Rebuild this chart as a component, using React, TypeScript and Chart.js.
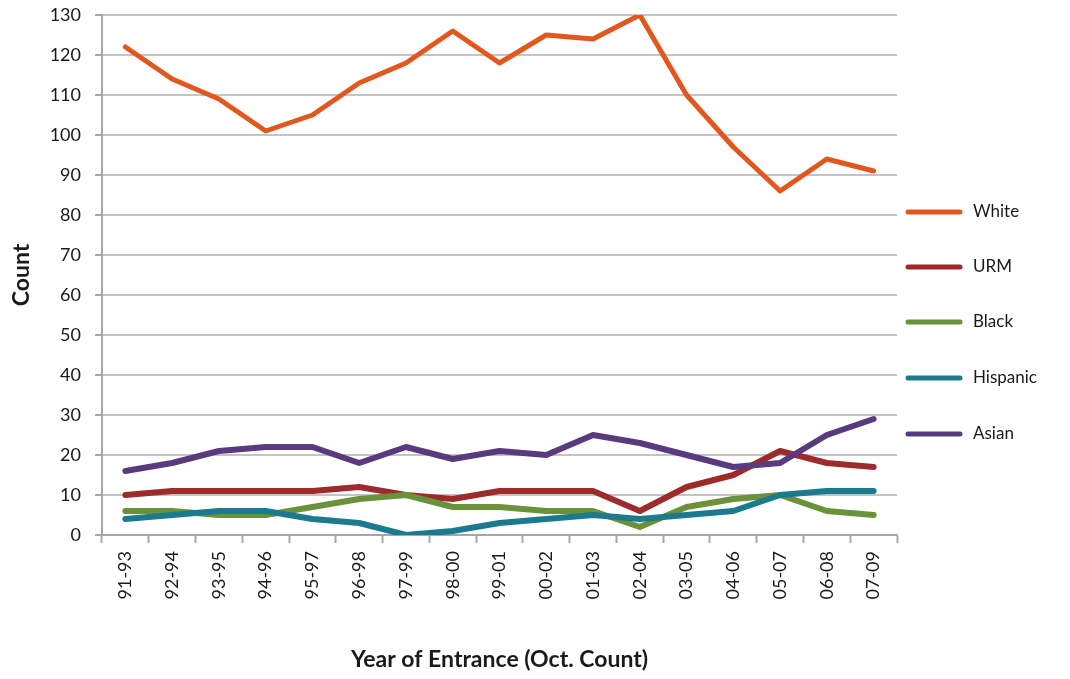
import React, { useEffect, useRef } from "react";
import { Chart, registerables } from "chart.js";

Chart.register(...registerables);

const categories = [
  "91-93", "92-94", "93-95", "94-96", "95-97", "96-98", "97-99", "98-00", "99-01",
  "00-02", "01-03", "02-04", "03-05", "04-06", "05-07", "06-08", "07-09",
];
const white = [122, 114, 109, 101, 105, 113, 118, 126, 118, 125, 124, 130, 110, 97, 86, 94, 91];
const urm = [10, 11, 11, 11, 11, 12, 10, 9, 11, 11, 11, 6, 12, 15, 21, 18, 17];
const black = [6, 6, 5, 5, 7, 9, 10, 7, 7, 6, 6, 2, 7, 9, 10, 6, 5];
const hispanic = [4, 5, 6, 6, 4, 3, 0, 1, 3, 4, 5, 4, 5, 6, 10, 11, 11];
const asian = [16, 18, 21, 22, 22, 18, 22, 19, 21, 20, 25, 23, 20, 17, 18, 25, 29];

const seriesNames = ["White", "URM", "Black", "Hispanic", "Asian"];
const seriesColors = ["#E2571E", "#9E2B2B", "#6A923A", "#1C7A8F", "#5A3A7F"];

const FONT = "Lato, 'Open Sans', sans-serif";

const legendPlugin = {
  id: "sideLegend",
  afterDraw(chart: any) {
    const ctx = chart.ctx;
    const ys = [212, 267, 322, 378, 434];
    ctx.save();
    chart.data.datasets.forEach((ds: any, i: number) => {
      const y = ys[i];
      ctx.strokeStyle = ds.borderColor;
      ctx.lineWidth = 5;
      ctx.lineCap = "round";
      ctx.beginPath();
      ctx.moveTo(908, y);
      ctx.lineTo(960, y);
      ctx.stroke();
      ctx.fillStyle = "#1a1a1a";
      ctx.font = `17px ${FONT}`;
      ctx.textBaseline = "middle";
      ctx.textAlign = "left";
      ctx.fillText(ds.label, 973, y);
    });
    ctx.restore();
  },
};

export default function App() {
  const ref = useRef<HTMLCanvasElement | null>(null);
  useEffect(() => {
    if (!ref.current) return;
    const dataSets = [white, urm, black, hispanic, asian];
    const chart = new Chart(ref.current, {
      type: "line",
      data: {
        labels: categories,
        datasets: dataSets.map((d, i) => ({
          label: seriesNames[i],
          data: d,
          borderColor: seriesColors[i],
          backgroundColor: seriesColors[i],
          borderWidth: i === 0 ? 5 : 6,
          pointRadius: 0,
          tension: 0,
          order: 5 - i,
          borderJoinStyle: "round" as const,
          borderCapStyle: "round" as const,
        })),
      },
      options: {
        responsive: false,
        animation: false,
        layout: { padding: { top: 15, right: 173, left: 0, bottom: 0 } },
        plugins: {
          legend: { display: false },
          tooltip: { enabled: false },
        },
        scales: {
          x: {
            type: "category",
            offset: true,
            grid: {
              display: true,
              drawOnChartArea: false,
              drawTicks: true,
              tickLength: 8,
              tickColor: "#a6a6a6",
              tickWidth: 2,
              offset: true,
            },
            border: { display: true, color: "#a6a6a6", width: 2 },
            ticks: {
              autoSkip: false,
              minRotation: 90,
              maxRotation: 90,
              padding: 8,
              color: "#1a1a1a",
              font: { family: FONT, size: 18 },
            },
            title: {
              display: true,
              text: "Year of Entrance (Oct. Count)",
              color: "#1a1a1a",
              font: { family: FONT, size: 23, weight: "bold" },
              padding: { top: 0, bottom: 6 },
            },
            afterFit(scale: any) {
              scale.height = 144;
              scale.paddingLeft = 0;
              scale.paddingRight = 0;
              scale.paddingTop = 0;
              scale.paddingBottom = 0;
            },
          },
          y: {
            min: 0,
            max: 130,
            ticks: {
              stepSize: 10,
              padding: 14,
              color: "#1a1a1a",
              font: { family: FONT, size: 18 },
            },
            grid: {
              color: "#c4c4c4",
              lineWidth: 2,
              drawTicks: true,
              tickLength: 7,
              tickColor: "#a6a6a6",
              tickWidth: 2,
            },
            border: { display: true, color: "#a6a6a6", width: 2 },
            title: {
              display: true,
              text: "Count",
              color: "#1a1a1a",
              font: { family: FONT, size: 23, weight: "bold" },
              padding: { top: 8, bottom: 0 },
            },
            afterFit(scale: any) {
              scale.width = 102;
              scale.paddingLeft = 0;
              scale.paddingRight = 0;
              scale.paddingTop = 0;
              scale.paddingBottom = 0;
            },
          },
        },
      },
      plugins: [legendPlugin],
    });
    return () => chart.destroy();
  }, []);
  return (
    <div style={{ position: "absolute", left: 0, top: 0, width: 1070, height: 679, background: "#fff" }}>
      <canvas ref={ref} width={1070} height={679} style={{ display: "block" }} />
    </div>
  );
}
